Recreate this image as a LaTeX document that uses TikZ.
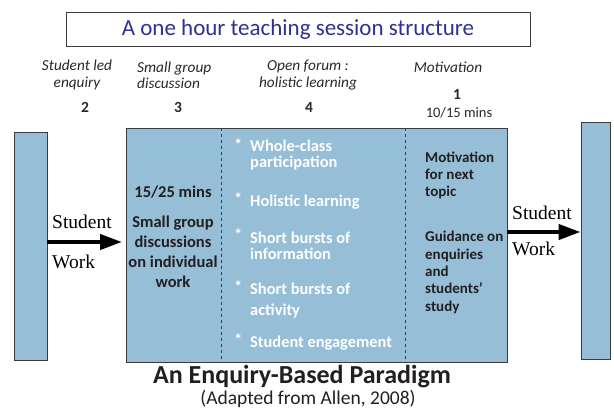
\documentclass[tikz,border=0pt]{standalone}
\usepackage{fontspec}
\setmainfont{Carlito}
\newfontfamily\serifwork{Liberation Serif}
\usetikzlibrary{arrows.meta,positioning}
\definecolor{boxfill}{RGB}{150,190,215}
\definecolor{titleblue}{RGB}{46,49,146}
\definecolor{darktext}{RGB}{35,31,32}
\definecolor{headgrey}{RGB}{40,40,40}
\definecolor{edgegrey}{RGB}{60,60,60}

\begin{document}
\begin{tikzpicture}[x=1pt,y=-1pt,inner sep=0pt,
			bar/.style={draw=edgegrey,line width=0.8pt,fill=boxfill},
			head/.style={font=\fontsize{15.3}{16.5}\selectfont\itshape,text=headgrey,align=center},
			num/.style={font=\fontsize{15.5}{16}\selectfont\bfseries,text=headgrey},
			coltext/.style={font=\fontsize{16.5}{20}\selectfont\bfseries,text=darktext,align=center},
			sidetext/.style={font=\fontsize{15}{17.3}\selectfont\bfseries,text=darktext,align=left,anchor=west},
			bullet/.style={font=\fontsize{16.4}{16}\selectfont\bfseries,text=white,anchor=west},
			work/.style={font=\fontsize{19.5}{20}\selectfont\serifwork,text=black,anchor=west},
			arr/.style={line width=4pt,-{Triangle[length=22pt,width=15pt]}}]
			\useasboundingbox (0,0) rectangle (614,415);
			% title
			\node [draw=edgegrey,line width=0.8pt,minimum width=464pt,minimum height=34pt,
				font=\fontsize{23}{26}\selectfont,text=titleblue] (title) at (298,29) {A one hour teaching session structure};
			% headings over the columns
			\node [head] (hd2) at (77,75) {Student led\\enquiry};
			\node [head,align=left,anchor=west] (hd3) at (137,75) {Small group\\discussion};
			\node [head] (hd4) at (308,75) {Open forum :\\holistic learning};
			\node [head] (hd1) at (448,67) {Motivation};
			\node [num] (n2) at (85,107) {2};
			\node [num] (n3) at (178,107) {3};
			\node [num] (n4) at (309,107) {4};
			\node [num] (n1) at (457,94) {1};
			\node [font=\fontsize{14.5}{16}\selectfont,text=headgrey] (mins1) at (459,113) {10/15 mins};
			% bars and main box
			\node [bar,minimum width=33pt,minimum height=228pt] (lbar) at (30.5,246) {};
			\node [bar,minimum width=381pt,minimum height=234pt] (mainbox) at (316.5,245) {};
			\node [bar,minimum width=29pt,minimum height=237pt] (rbar) at (595.5,240.5) {};
			\draw [edgegrey,dashed,line width=0.8pt] (221,0 |- mainbox.north) -- (221,0 |- mainbox.south);
			\draw [edgegrey,dashed,line width=0.8pt] (405,0 |- mainbox.north) -- (405,0 |- mainbox.south);
			% small group column
			\node [coltext] (mins3) at (173,192) {15/25 mins};
			\node [coltext] (small) at (173,252) {Small group\\discussions\\on individual\\work};
			% open forum column
			\foreach \y/\sy/\txt in {155/145/{Whole-class\\participation},202/199/{Holistic learning},
					246/235/{Short bursts of\\information},300.5/287/{Short bursts of\\[5pt]activity},343/340/{Student engagement}}
				{\node [bullet] at (234,\sy) {*};
				 \node [bullet,align=left] at (250,\y) {\txt};}
			% motivation column
			\node [sidetext] (motiv) at (425,175.5) {Motivation\\for next\\topic};
			\node [sidetext] (guide) at (425,272.5) {Guidance on\\enquiries\\and\\students'\\study};
			% student work arrows
			\node [work] (sw1) at (52,222) {Student};
			\node [work] (wk1) at (52,262) {Work};
			\node [work] (sw2) at (512,213) {Student};
			\node [work] (wk2) at (512,249) {Work};
			\draw [arr] (lbar.east |- 0,242) -- (122,242);
			\draw [arr] (mainbox.east |- 0,232) -- (rbar.west |- 0,232);
			% caption
			\node [font=\fontsize{26}{28}\selectfont\bfseries,text=darktext] (caption) at (302,377) {An Enquiry-Based Paradigm};
			\node [font=\fontsize{19.5}{21}\selectfont,text=darktext] (source) at (308,399) {(Adapted from Allen, 2008)};
		\end{tikzpicture}
\end{document}
